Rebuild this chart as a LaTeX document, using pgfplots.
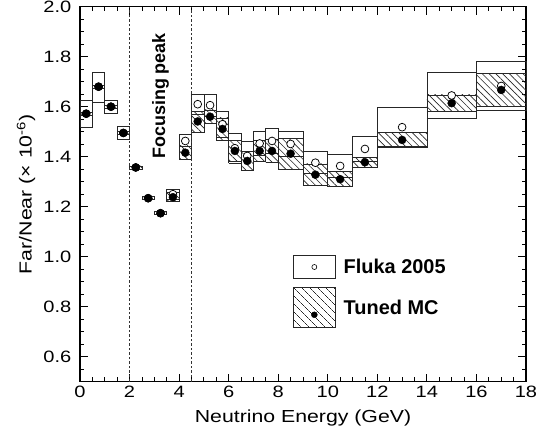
\documentclass[border=0pt]{standalone}
\usepackage{fontspec}
\setmainfont{Liberation Sans}
\newfontfamily\widefont[FakeStretch=1.22]{Liberation Sans}
\usepackage{pgfplots}
\pgfplotsset{compat=1.18}
\usepackage{pgfplotstable}
\usetikzlibrary{patterns.meta}

\pgfplotstableread{
xlo xhi xc f flo fhi t tlo thi
0.0 0.5 0.25 1.572 1.516 1.626 1.572 1.566 1.578
0.5 1.0 0.75 1.680 1.619 1.738 1.680 1.674 1.686
1.0 1.5 1.25 1.600 1.572 1.627 1.600 1.594 1.606
1.5 2.0 1.75 1.495 1.468 1.521 1.495 1.489 1.501
2.0 2.5 2.25 1.357 1.351 1.363 1.357 1.351 1.363
2.5 3.0 2.75 1.234 1.228 1.240 1.234 1.228 1.240
3.0 3.5 3.25 1.174 1.168 1.180 1.174 1.168 1.180
3.5 4.0 3.75 1.250 1.230 1.270 1.238 1.220 1.256
4.0 4.5 4.25 1.463 1.440 1.490 1.416 1.388 1.443
4.5 5.0 4.75 1.610 1.570 1.651 1.541 1.496 1.582
5.0 5.5 5.25 1.606 1.561 1.651 1.560 1.533 1.587
5.5 6.0 5.75 1.530 1.478 1.583 1.511 1.467 1.555
6.0 6.5 6.25 1.434 1.374 1.494 1.423 1.380 1.466
6.5 7.0 6.75 1.403 1.346 1.460 1.383 1.344 1.422
7.0 7.5 7.25 1.453 1.406 1.500 1.423 1.380 1.466
7.5 8.0 7.75 1.463 1.413 1.513 1.423 1.378 1.468
8.0 9.0 8.5 1.451 1.400 1.500 1.412 1.350 1.473
9.0 10.0 9.5 1.376 1.332 1.420 1.328 1.287 1.371
10.0 11.0 10.5 1.363 1.316 1.410 1.310 1.280 1.340
11.0 12.0 11.5 1.431 1.382 1.480 1.378 1.358 1.398
12.0 14.0 13.0 1.518 1.440 1.596 1.467 1.438 1.496
14.0 16.0 15.0 1.645 1.554 1.736 1.614 1.580 1.647
16.0 18.0 17.0 1.683 1.586 1.780 1.667 1.600 1.734
}\binsdata

\pgfplotsset{
  flukabox/.style={forget plot, draw=black!85, line width=0.7bp, mark=none},
  tunedbox/.style={forget plot, draw=black!85, line width=0.7bp, mark=none,
    pattern={Lines[angle=-45,distance=4.8bp,line width=0.65bp]}, pattern color=black!85},
}

\begin{document}
\begin{tikzpicture}
\begin{axis}[
  name=ax,
  at={(0,0)}, anchor=south west,
  width=446bp, height=375bp, scale only axis,
  xmin=0, xmax=18, ymin=0.5, ymax=2.0,
  xtick={0,2,4,6,8,10,12,14,16,18},
  ytick={0.6,0.8,1.0,1.2,1.4,1.6,1.8,2.0},
  minor xtick={0,0.5,...,18},
  minor ytick={0.5,0.55,0.6,0.65,0.7,0.75,0.8,0.85,0.9,0.95,1.0,1.05,1.1,1.15,1.2,1.25,1.3,1.35,1.4,1.45,1.5,1.55,1.6,1.65,1.7,1.75,1.8,1.85,1.9,1.95,2.0},
  tick align=inside,
  major tick length=8bp, minor tick length=4.3bp,
  every tick/.style={black, line width=0.8bp},
  axis line style={line width=1.5bp},
  /pgf/number format/assume math mode=true,
  yticklabel style={/pgf/number format/.cd, fixed, fixed zerofill, precision=1},
  tick label style={font=\widefont\fontsize{16.5}{18}\selectfont, inner sep=0pt},
  xticklabel shift=4.5bp,
  yticklabel shift=8.5bp,
  xlabel={Neutrino Energy (GeV)},
  ylabel={Far/Near (× 10\textsuperscript{-6})},
  xlabel style={at={(axis description cs:0.5,-0.097)}, anchor=center, inner sep=0pt, font=\widefont\fontsize{17.5}{20}\selectfont},
  ylabel style={at={(axis description cs:-0.121,0.5)}, anchor=center, inner sep=0pt, font=\widefont\fontsize{17.5}{20}\selectfont},
  legend style={at={(0.4776,0.338)}, anchor=north west, draw=none, fill=none,
    inner sep=0pt, outer sep=0pt, row sep=8.4bp, column sep=8bp,
    font=\bfseries\fontsize{20}{22}\selectfont, nodes={inner sep=0pt}},
  legend cell align=left,
  clip=false,
]
\pgfplotsinvokeforeach{0,...,22}{
  \pgfplotstablegetelem{#1}{xlo}\of\binsdata \let\xa\pgfplotsretval
  \pgfplotstablegetelem{#1}{xhi}\of\binsdata \let\xb\pgfplotsretval
  \pgfplotstablegetelem{#1}{flo}\of\binsdata \let\fa\pgfplotsretval
  \pgfplotstablegetelem{#1}{fhi}\of\binsdata \let\fb\pgfplotsretval
  \pgfplotstablegetelem{#1}{tlo}\of\binsdata \let\ta\pgfplotsretval
  \pgfplotstablegetelem{#1}{thi}\of\binsdata \let\tb\pgfplotsretval
  \edef\doboxes{%
    \noexpand\addplot[tunedbox] coordinates {(\xa,\ta) (\xb,\ta) (\xb,\tb) (\xa,\tb) (\xa,\ta)};
    \noexpand\addplot[flukabox] coordinates {(\xa,\fa) (\xb,\fa) (\xb,\fb) (\xa,\fb) (\xa,\fa)};
  }\doboxes
}
\addplot[forget plot, black!80, line width=0.7bp, dash pattern=on 2.5bp off 2bp] coordinates {(2,0.5) (2,2.0)};
\addplot[forget plot, black!80, line width=0.7bp, dash pattern=on 2.5bp off 2bp] coordinates {(4.5,0.5) (4.5,2.0)};
\addplot[forget plot, only marks, mark=*, mark size=3.9bp, mark options={draw=black, fill=white, line width=0.75bp}] table[x=xc, y=f]{\binsdata};
\addplot[forget plot, only marks, mark=*, mark size=4bp, mark options={draw=black, fill=black}] table[x=xc, y=t]{\binsdata};
\node[rotate=90, font=\bfseries\fontsize{18}{20}\selectfont, inner sep=0pt] at (axis cs:3.25,1.643) {Focusing peak};

\addlegendimage{legend image code/.code={\draw[black!85, line width=0.7bp] (0bp,-11.7bp) rectangle (42bp,11.7bp); \draw[black, line width=0.6bp, fill=white] (21bp,0bp) circle (2.5bp);}}
\addlegendentry{Fluka 2005}
\addlegendimage{legend image code/.code={\draw[black!85, line width=0.7bp, pattern={Lines[angle=-45,distance=6bp,line width=0.65bp]}, pattern color=black!85] (0bp,-20bp) rectangle (42bp,20bp); \fill[black] (21bp,-7bp) circle (3bp);}}
\addlegendentry{Tuned MC}
\end{axis}
\pgfresetboundingbox
\path[use as bounding box] ([shift={(-80bp,-58.3bp)}]ax.south west) rectangle ([shift={(22bp,6.7bp)}]ax.north east);
\end{tikzpicture}
\end{document}
